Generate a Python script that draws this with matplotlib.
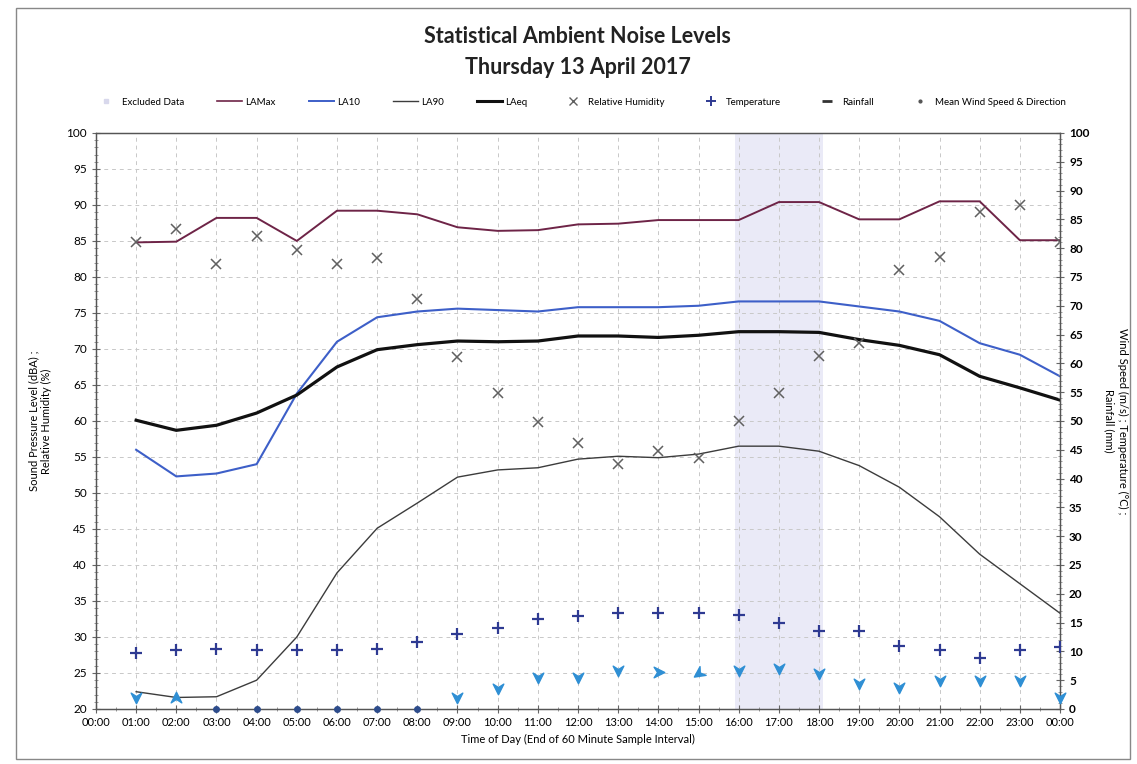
import numpy as np
import matplotlib
matplotlib.use("Agg")
import matplotlib.pyplot as plt
from matplotlib.path import Path
from matplotlib.markers import MarkerStyle
from matplotlib.transforms import Affine2D
from matplotlib.lines import Line2D
from matplotlib.patches import Rectangle

plt.rcParams['font.family'] = ['Lato', 'DejaVu Sans']

# Hour ending of each 60-minute sample (1..24, 24 = midnight)
hours = list(range(1, 25))
hour_labels = ["00:00", "01:00", "02:00", "03:00", "04:00", "05:00", "06:00", "07:00",
               "08:00", "09:00", "10:00", "11:00", "12:00", "13:00", "14:00", "15:00",
               "16:00", "17:00", "18:00", "19:00", "20:00", "21:00", "22:00", "23:00", "00:00"]

# Noise statistics (dBA)
lamax = [84.8, 84.9, 88.2, 88.2, 85.0, 89.2, 89.2, 88.7, 86.9, 86.4, 86.5, 87.3,
         87.4, 87.9, 87.9, 87.9, 90.4, 90.4, 88.0, 88.0, 90.5, 90.5, 85.1, 85.1]
la10 = [56.0, 52.3, 52.7, 54.0, 63.8, 71.0, 74.4, 75.2, 75.6, 75.4, 75.2, 75.8,
        75.8, 75.8, 76.0, 76.6, 76.6, 76.6, 75.9, 75.2, 73.9, 70.8, 69.2, 66.2]
la90 = [22.4, 21.6, 21.7, 24.0, 30.0, 38.9, 45.1, 48.6, 52.2, 53.2, 53.5, 54.7,
        55.1, 54.9, 55.4, 56.5, 56.5, 55.8, 53.8, 50.8, 46.7, 41.5, 37.4, 33.3]
laeq = [60.1, 58.7, 59.4, 61.1, 63.6, 67.5, 69.9, 70.6, 71.1, 71.0, 71.1, 71.8,
        71.8, 71.6, 71.9, 72.4, 72.4, 72.3, 71.3, 70.5, 69.2, 66.2, 64.6, 62.9]

# Weather
rel_humidity = [84.8, 86.7, 81.8, 85.7, 83.8, 81.8, 82.6, 76.9, 68.9, 63.9, 59.9, 56.9,
                54.0, 55.8, 54.9, 60.0, 63.9, 69.0, 70.8, 81.0, 82.8, 89.0, 90.0, 84.8]
temperature = [9.7, 10.2, 10.4, 10.2, 10.2, 10.2, 10.5, 11.6, 13.0, 14.0, 15.6, 16.1,
               16.6, 16.6, 16.6, 16.3, 14.9, 13.5, 13.5, 11.0, 10.2, 8.8, 10.2, 10.8]
rainfall = []  # no rainfall recorded
wind_speed = [2.1, 1.9, 0.0, 0.0, 0.0, 0.0, 0.0, 0.0, 2.1, 3.6, 5.6, 5.6,
              6.8, 6.5, 6.2, 6.8, 7.2, 6.2, 4.5, 3.8, 5.0, 5.0, 5.0, 2.1]
# arrow rotation (degrees, counter-clockwise from pointing down)
wind_dir = [0, 180, 0, 0, 0, 0, 0, 0, 0, 0, 0, 0,
            0, 90, -55, 0, 0, 0, 0, 0, 0, 0, 0, 0]

excluded_span = (15.9, 18.1)

fig = plt.figure(figsize=(11.37, 7.64), dpi=100)
ax = fig.add_axes([0.0844, 0.072, 0.8479, 0.754])
ax2 = ax.twinx()

# excluded period shading
ax.axvspan(*excluded_span, color='#dcdcf3', alpha=0.6, lw=0, zorder=0)

ax.set_xlim(0, 24)
ax.set_ylim(20, 100)
ax2.set_ylim(0, 100)

ax.set_xticks(range(0, 25))
ax.set_xticklabels(hour_labels, fontsize=8)
ax.set_xticks(np.arange(0.5, 24, 1), minor=True)
ax.set_yticks(range(20, 101, 5))
ax.set_yticks(range(20, 101, 1), minor=True)
ax2.set_yticks(range(0, 101, 5))
ax2.set_yticks(range(0, 101, 1), minor=True)
ax.tick_params(axis='y', labelsize=8.5, direction='inout', length=6, color='#666666')
ax.tick_params(axis='y', which='minor', direction='inout', length=3, color='#888888')
ax.tick_params(axis='x', direction='inout', length=6, color='#666666', pad=3)
ax.tick_params(axis='x', which='minor', direction='inout', length=3, color='#888888')
ax2.tick_params(axis='y', labelsize=8.5, direction='inout', length=6, color='#666666')
ax2.tick_params(axis='y', which='minor', direction='inout', length=3, color='#888888')
for t in ax2.get_yticklabels():
    t.set_fontweight('bold')

ax.grid(True, which='major', color='#c8c8c8', linestyle=(0, (4, 4)), lw=0.7)
for a in (ax, ax2):
    for s in a.spines.values():
        s.set_color('#555555')
        s.set_linewidth(0.9)

ax.set_ylabel("Sound Pressure Level (dBA) ;\nRelative Humidity (%)", fontsize=8, labelpad=10)
ax2.set_ylabel("Wind Speed (m/s) ; Temperature (°C) ;\nRainfall (mm)", fontsize=8,
               rotation=-90, ha='center', va='center')
ax2.yaxis.set_label_coords(1.058, 0.5)
ax.set_xlabel("Time of Day (End of 60 Minute Sample Interval)", fontsize=8, labelpad=4)

# noise levels
ax.plot(hours, lamax, color='#6e2447', lw=1.4, zorder=4)
ax.plot(hours, la10, color='#3d5fc8', lw=1.5, zorder=4)
ax.plot(hours, la90, color='#3c3c3c', lw=1.0, zorder=4)
ax.plot(hours, laeq, color='#111111', lw=2.3, zorder=4)
ax.plot(hours, rel_humidity, linestyle='none', marker='x', color='#606060',
        markersize=7, mew=1.1, zorder=5)

# weather on the secondary axis
ax2.plot(hours, temperature, linestyle='none', marker='+', color='#2e3a92',
         markersize=9, mew=1.6, zorder=5)
if rainfall:
    ax2.plot(hours[:len(rainfall)], rainfall, linestyle='none', marker='_',
             color='#333333', markersize=8, mew=2)

arrow_path = Path([(0, -1.0), (0.85, 0.7), (0, 0.15), (-0.85, 0.7), (0, -1.0)],
                  [Path.MOVETO, Path.LINETO, Path.LINETO, Path.LINETO, Path.CLOSEPOLY])
for h, ws, wd in zip(hours, wind_speed, wind_dir):
    if ws <= 0:
        ax2.plot(h, ws, linestyle='none', marker='o', color='#2d4c8c',
                 markersize=4, clip_on=False, zorder=6)
    else:
        mk = MarkerStyle(arrow_path, transform=Affine2D().rotate_deg(wd))
        ax2.plot(h, ws, linestyle='none', marker=mk, color='#2f8fd4',
                 markersize=9, zorder=6, clip_on=False)

ax2.set_zorder(ax.get_zorder() + 1)
ax2.patch.set_visible(False)

# titles
fig.text(0.508, 0.952, "Statistical Ambient Noise Levels", ha='center', va='center',
         fontsize=15.5, fontweight='bold', color='#222222')
fig.text(0.508, 0.911, "Thursday 13 April 2017", ha='center', va='center',
         fontsize=15.5, fontweight='bold', color='#222222')

# legend
handles = [
    Line2D([], [], linestyle='none', marker='s', color='#d8d8ec', markersize=3),
    Line2D([], [], color='#6e2447', lw=1.2),
    Line2D([], [], color='#3d5fc8', lw=1.4),
    Line2D([], [], color='#3c3c3c', lw=1.0),
    Line2D([], [], color='#111111', lw=2.2),
    Line2D([], [], linestyle='none', marker='x', color='#606060', markersize=6),
    Line2D([], [], linestyle='none', marker='+', color='#2e3a92', markersize=7, mew=1.4),
    Line2D([], [], linestyle='none', marker='_', color='#333333', markersize=7, mew=2),
    Line2D([], [], linestyle='none', marker='.', color='#555555', markersize=4),
]
labels = ["Excluded Data", "LAMax", "LA10", "LA90", "LAeq", "Relative Humidity",
          "Temperature", "Rainfall", "Mean Wind Speed & Direction"]
fig.legend(handles, labels, loc='center', bbox_to_anchor=(0.51, 0.866), ncol=9,
           frameon=False, fontsize=7, handlelength=2.6, columnspacing=3.4,
           handletextpad=0.3)

# outer frame
fig.patches.append(Rectangle((0.014, 0.006), 0.98, 0.984, transform=fig.transFigure,
                             fill=False, edgecolor='#888888', lw=1.0))

fig.savefig("out.png", dpi=100)
